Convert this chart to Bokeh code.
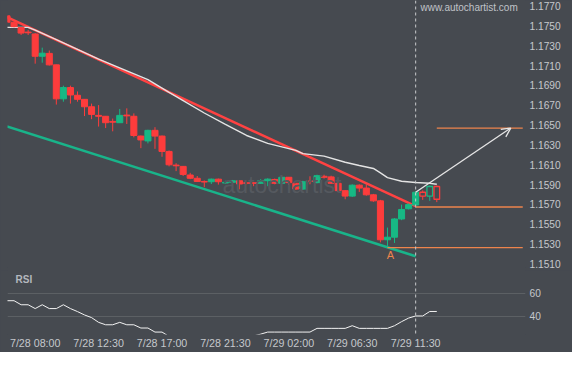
from bokeh.plotting import figure
from bokeh.models import (ColumnDataSource, Range1d, FixedTicker, Span, Label,
                          Arrow, OpenHead, PrintfTickFormatter)
from bokeh.layouts import column
from bokeh.embed import file_html
from bokeh.resources import INLINE

# ---------------- data ----------------
bars = list(range(1, 63))
opens = [1.17603, 1.17539, 1.17485, 1.17439, 1.17420, 1.17195, 1.17224, 1.17108, 1.16765, 1.16879,
         1.16801, 1.16760, 1.16685, 1.16598, 1.16589, 1.16537, 1.16524, 1.16601, 1.16589, 1.16389,
         1.16340, 1.16447, 1.16389, 1.16234, 1.16096, 1.16083, 1.15996, 1.15963, 1.15931, 1.15928,
         1.15954, 1.15915, 1.15922, 1.15938, 1.15917, 1.15917, 1.15912, 1.15938, 1.15951, 1.15912,
         1.15973, 1.15912, 1.15854, 1.15936, 1.15919, 1.15983, 1.15977, 1.15912, 1.15838, 1.15783,
         1.15893, 1.15864, 1.15796, 1.15735, 1.15342, 1.15368, 1.15552, 1.15655, 1.15693, 1.15822,
         1.15783, 1.15880]
highs = [1.17610, 1.17545, 1.17487, 1.17461, 1.17429, 1.17282, 1.17253, 1.17110, 1.16898, 1.16898,
         1.16840, 1.16763, 1.16717, 1.16702, 1.16589, 1.16566, 1.16663, 1.16669, 1.16618, 1.16395,
         1.16453, 1.16479, 1.16395, 1.16244, 1.16115, 1.16086, 1.16018, 1.15986, 1.15941, 1.15960,
         1.15960, 1.15938, 1.15946, 1.15941, 1.15922, 1.15922, 1.15954, 1.15963, 1.15960, 1.15975,
         1.15975, 1.15917, 1.15938, 1.15983, 1.15999, 1.15999, 1.15989, 1.15917, 1.15844, 1.15902,
         1.15902, 1.15902, 1.15805, 1.15745, 1.15465, 1.15560, 1.15697, 1.15710, 1.15830, 1.15841,
         1.15890, 1.15890]
lows = [1.17539, 1.17487, 1.17410, 1.17410, 1.17120, 1.17130, 1.17101, 1.16707, 1.16736, 1.16717,
        1.16736, 1.16591, 1.16560, 1.16485, 1.16470, 1.16437, 1.16521, 1.16511, 1.16376, 1.16267,
        1.16315, 1.16260, 1.16180, 1.16083, 1.16035, 1.15986, 1.15954, 1.15927, 1.15873, 1.15905,
        1.15899, 1.15905, 1.15890, 1.15851, 1.15896, 1.15883, 1.15907, 1.15883, 1.15902, 1.15902,
        1.15896, 1.15844, 1.15844, 1.15902, 1.15912, 1.15960, 1.15905, 1.15825, 1.15751, 1.15774,
        1.15825, 1.15787, 1.15725, 1.15316, 1.15262, 1.15310, 1.15540, 1.15648, 1.15680, 1.15745,
        1.15735, 1.15722]
closes = [1.17539, 1.17494, 1.17429, 1.17432, 1.17195, 1.17226, 1.17108, 1.16765, 1.16879, 1.16804,
          1.16760, 1.16685, 1.16608, 1.16589, 1.16524, 1.16529, 1.16598, 1.16593, 1.16395, 1.16350,
          1.16447, 1.16389, 1.16234, 1.16099, 1.16089, 1.16002, 1.15963, 1.15931, 1.15925, 1.15954,
          1.15928, 1.15922, 1.15938, 1.15905, 1.15912, 1.15912, 1.15938, 1.15954, 1.15912, 1.15973,
          1.15919, 1.15854, 1.15928, 1.15930, 1.15989, 1.15973, 1.15912, 1.15838, 1.15783, 1.15893,
          1.15864, 1.15796, 1.15735, 1.15342, 1.15368, 1.15552, 1.15648, 1.15697, 1.15822, 1.15783,
          1.15880, 1.15751]

rsi = [53.4, 53.4, 49.9, 49.9, 46.6, 49.9, 46.6, 46.6, 49.9, 46.6,
       44.0, 41.1, 38.8, 34.7, 32.6, 32.6, 34.7, 32.6, 32.6, 29.8,
       29.8, 26.3, 26.3, 22.5, 20.5, 18.5, 17.0, 16.0, 15.5, 16.5,
       17.5, 18.5, 19.5, 20.5, 21.5, 23.0, 24.5, 26.3, 26.3, 26.3,
       26.3, 26.3, 26.3, 26.3, 29.5, 29.5, 29.5, 29.5, 29.5, 31.8,
       29.5, 29.5, 29.5, 29.5, 29.5, 31.8, 35.3, 38.4, 40.2, 40.2,
       44.1, 44.1]

ma_bar = [1, 4, 5, 8, 14, 21, 24, 26, 29, 32, 35, 38, 42, 43, 46, 49, 51, 53, 54, 55, 57, 59, 61, 62]
ma_val = [1.17487, 1.17487, 1.17458, 1.17364, 1.17165, 1.16959, 1.16830, 1.16748, 1.16622, 1.16507,
          1.16395, 1.16315, 1.16245, 1.16212, 1.16187, 1.16125, 1.16092, 1.16062, 1.16018, 1.15970,
          1.15933, 1.15920, 1.15912, 1.15902]

upper_bar = [1, 59]
upper_val = [1.17589, 1.15682]
lower_bar = [1, 59]
lower_val = [1.16487, 1.15175]

current_bar = 59
level_price = [1.15673, 1.15262, 1.16470]
level_start = [59, 55, 62]
level_end = 74.2

forecast_from = (59, 1.15822)
forecast_to = (72.5, 1.16470)
point_a = (55, 1.15262)

price_ticks = [1.1510, 1.1530, 1.1550, 1.1570, 1.1590, 1.1610, 1.1630,
               1.1650, 1.1670, 1.1690, 1.1710, 1.1730, 1.1750, 1.1770]
rsi_ticks = [40, 60]
time_ticks = [5, 14, 23, 32, 41, 50, 59]
time_labels = ["7/28 08:00", "7/28 12:30", "7/28 17:00", "7/28 21:30",
               "7/29 02:00", "7/29 06:30", "7/29 11:30"]

# ---------------- style ----------------
BG = "#464a50"
RED = "#fd3c3c"
GREEN = "#17b884"
LABEL = "#c5c8cc"
ORANGE = "#ee844c"
FONT = "Liberation Sans"

xr = Range1d(1.069, 74.59)


def style_axis(a, size, standoff):
    a.axis_line_color = None
    a.major_tick_line_color = None
    a.minor_tick_line_color = None
    a.major_tick_out = 0
    a.major_tick_in = 0
    a.minor_tick_out = 0
    a.minor_tick_in = 0
    a.major_label_text_color = LABEL
    a.major_label_text_font = FONT
    a.major_label_text_font_size = size
    a.major_label_standoff = standoff


p1 = figure(width=572, height=270, x_range=xr, y_range=Range1d(1.15062, 1.17758),
            output_backend="svg", toolbar_location=None,
            x_axis_location=None, y_axis_location="right",
            min_border_left=7, min_border_right=47, min_border_top=0, min_border_bottom=3,
            background_fill_color=BG, border_fill_color=BG, outline_line_color=None,
            styles={"background-color": BG})
p1.grid.visible = False
ay = p1.yaxis[0]
ay.ticker = FixedTicker(ticks=price_ticks)
ay.formatter = PrintfTickFormatter(format="%.4f")
style_axis(ay, "10.2px", 4)

# watermarks
p1.add_layout(Label(x=215, y=83, x_units="screen", y_units="screen", text="autochartist",
                    text_color="#55595f", text_font=FONT, text_font_size="23px",
                    text_baseline="alphabetic"))
p1.add_layout(Label(x=413, y=260, x_units="screen", y_units="screen", text="www.autochartist.com",
                    text_color="#c0c3c8", text_font=FONT, text_font_size="10px",
                    text_baseline="middle"))

# channel lines
p1.line(lower_bar, lower_val, line_color="#19b48a", line_width=2.5)
p1.line(upper_bar, upper_val, line_color="#ff4242", line_width=2.5)
# moving average
p1.line(ma_bar, ma_val, line_color="#e4e4e4", line_width=1.4)

# candles
inc = [c >= o for o, c in zip(opens, closes)]
data = dict(
    x=bars, o=opens, h=highs, l=lows, c=closes,
    top=[max(o, c) for o, c in zip(opens, closes)],
    bottom=[min(o, c) for o, c in zip(opens, closes)],
    color=[GREEN if i else RED for i in inc],
)
solid_idx = [i for i, b in enumerate(bars) if b <= current_bar]
hollow_idx = [i for i, b in enumerate(bars) if b > current_bar]


def sub(idx):
    return ColumnDataSource({k: [v[i] for i in idx] for k, v in data.items()})


s_solid = sub(solid_idx)
s_hollow = sub(hollow_idx)
p1.segment(x0="x", y0="h", x1="x", y1="l", source=s_solid, line_color="color", line_width=1)
p1.vbar(x="x", top="top", bottom="bottom", width=0.86, source=s_solid,
        fill_color="color", line_color="color", line_width=1)
p1.segment(x0="x", y0="h", x1="x", y1="top", source=s_hollow, line_color="color", line_width=1)
p1.segment(x0="x", y0="bottom", x1="x", y1="l", source=s_hollow, line_color="color", line_width=1)
p1.vbar(x="x", top="top", bottom="bottom", width=0.8, source=s_hollow,
        fill_alpha=0, line_color="color", line_width=1.3)

# levels
p1.segment(x0=level_start, y0=level_price, x1=[level_end] * len(level_price), y1=level_price,
           line_color=ORANGE, line_width=1.3)

# forecast arrow
p1.add_layout(Arrow(end=OpenHead(size=9, line_color="#e6e6e6", line_width=1.3),
                    x_start=forecast_from[0], y_start=forecast_from[1],
                    x_end=forecast_to[0], y_end=forecast_to[1],
                    line_color="#e6e6e6", line_width=1.3))

p1.add_layout(Label(x=point_a[0], y=point_a[1], text="A", x_offset=3, y_offset=-7,
                    text_align="center", text_baseline="middle", text_color=ORANGE,
                    text_font=FONT, text_font_size="11px"))

p1.add_layout(Span(location=current_bar, dimension="height", line_color="#c8cacc",
                   line_dash="3 3", line_width=1))

# ---------------- RSI panel ----------------
p2 = figure(width=572, height=82, x_range=xr, y_range=Range1d(24.2, 79.5),
            output_backend="svg", toolbar_location=None,
            x_axis_location="below", y_axis_location="right",
            min_border_left=7, min_border_right=47, min_border_top=0, min_border_bottom=18,
            background_fill_color=BG, border_fill_color=BG, outline_line_color=None,
            styles={"background-color": BG})
p2.xgrid.visible = False
p2.ygrid.ticker = FixedTicker(ticks=rsi_ticks)
p2.ygrid.grid_line_color = "#5c6064"
p2.ygrid.grid_line_width = 1

a2 = p2.yaxis[0]
a2.ticker = FixedTicker(ticks=rsi_ticks)
style_axis(a2, "10.2px", 4)

ax2 = p2.xaxis[0]
ax2.ticker = FixedTicker(ticks=time_ticks)
ax2.major_label_overrides = {t: l for t, l in zip(time_ticks, time_labels)}
style_axis(ax2, "10.7px", 2)

p2.line(bars, rsi, line_color="#f2f2f2", line_width=1)
p2.add_layout(Span(location=current_bar, dimension="height", line_color="#c8cacc",
                   line_dash="3 3", line_width=1))
p2.add_layout(Label(x=8, y=55.5, x_units="screen", y_units="screen", text="RSI",
                    text_color="#b4b8be", text_font=FONT, text_font_size="10px",
                    text_font_style="bold", text_baseline="middle"))

layout = column(p1, p2, spacing=0, styles={"background-color": BG})
open("out.html", "w").write(file_html(layout, INLINE))
